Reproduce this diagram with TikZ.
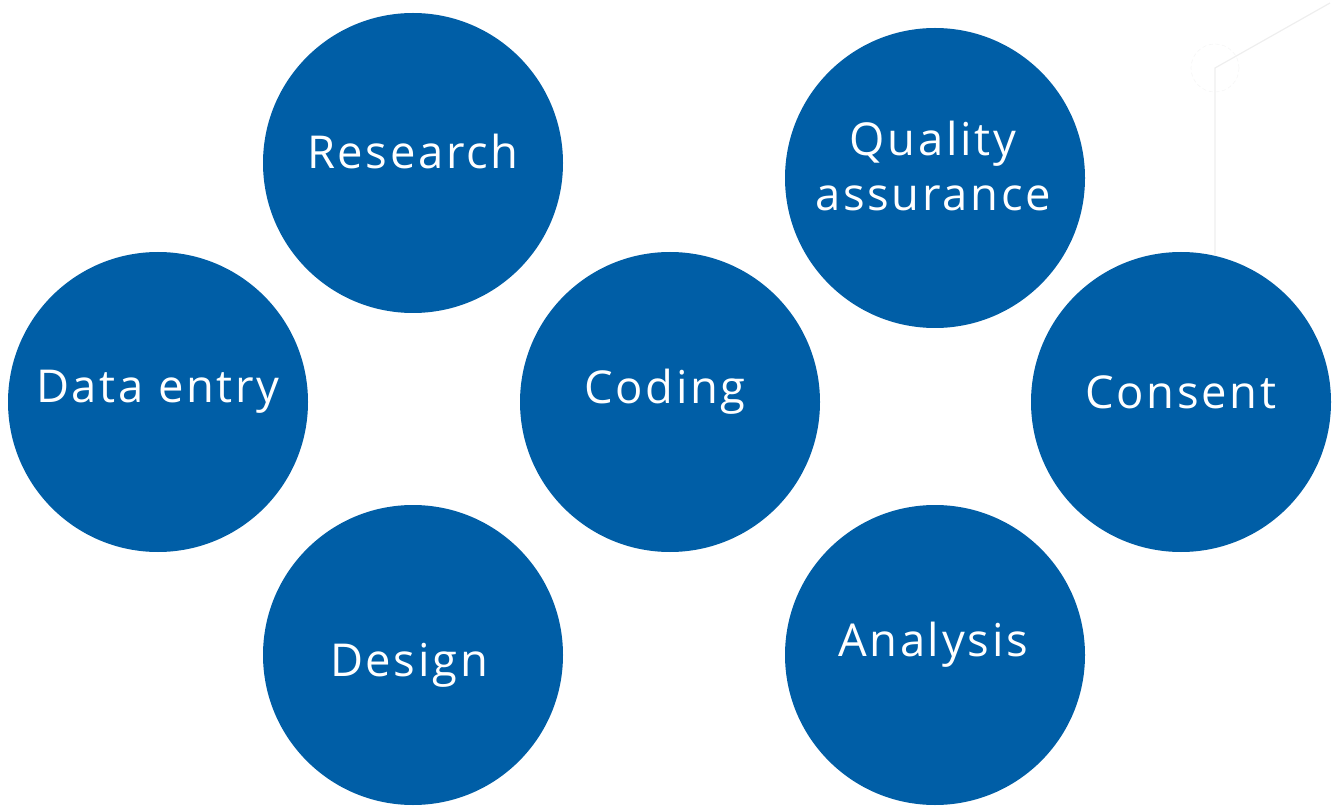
\documentclass[tikz,border=0pt]{standalone}
\usepackage{fontspec}
\setmainfont{Open Sans}[LetterSpace=6]
\definecolor{cblue}{RGB}{0,94,166}
\definecolor{faint}{RGB}{238,238,238}
\definecolor{fainter}{RGB}{246,246,246}
\begin{document}
\begin{tikzpicture}[x=0.75pt,y=-0.75pt,
  disc/.style={circle,fill=cblue,minimum size=300*0.75pt,inner sep=0pt},
  lbl/.style={text=white,font=\fontsize{34}{41}\selectfont,align=center}]
\useasboundingbox (0,0) rectangle (1332,809);
\draw[faint,line width=0.9pt] (1215,255) coordinate (fa) -- (1215,68) coordinate (fb) -- (1330,3) coordinate (fc);
\draw[fainter,densely dashed,line width=0.5pt] (fb) circle (24);
\node[disc] (research) at (413,163) {};
\node[disc] (dataentry) at (158,402) {};
\node[disc] (coding) at (670,402) {};
\node[disc] (design) at (413,655) {};
\node[disc] (quality) at (935,178) {};
\node[disc] (consent) at (1181,402) {};
\node[disc] (analysis) at (935,655) {};
\node[lbl] (tresearch) at (413,152) {Research};
\node[lbl] (tdataentry) at (158,392) {Data entry};
\node[lbl] (tcoding) at (665,392) {Coding};
\node[lbl] (tdesign) at (409,665) {Design};
\node[lbl] (tquality) at (933,166) {Quality\\assurance};
\node[lbl] (tconsent) at (1181,392) {Consent};
\node[lbl] (tanalysis) at (933,645) {Analysis};
\end{tikzpicture}
\end{document}
